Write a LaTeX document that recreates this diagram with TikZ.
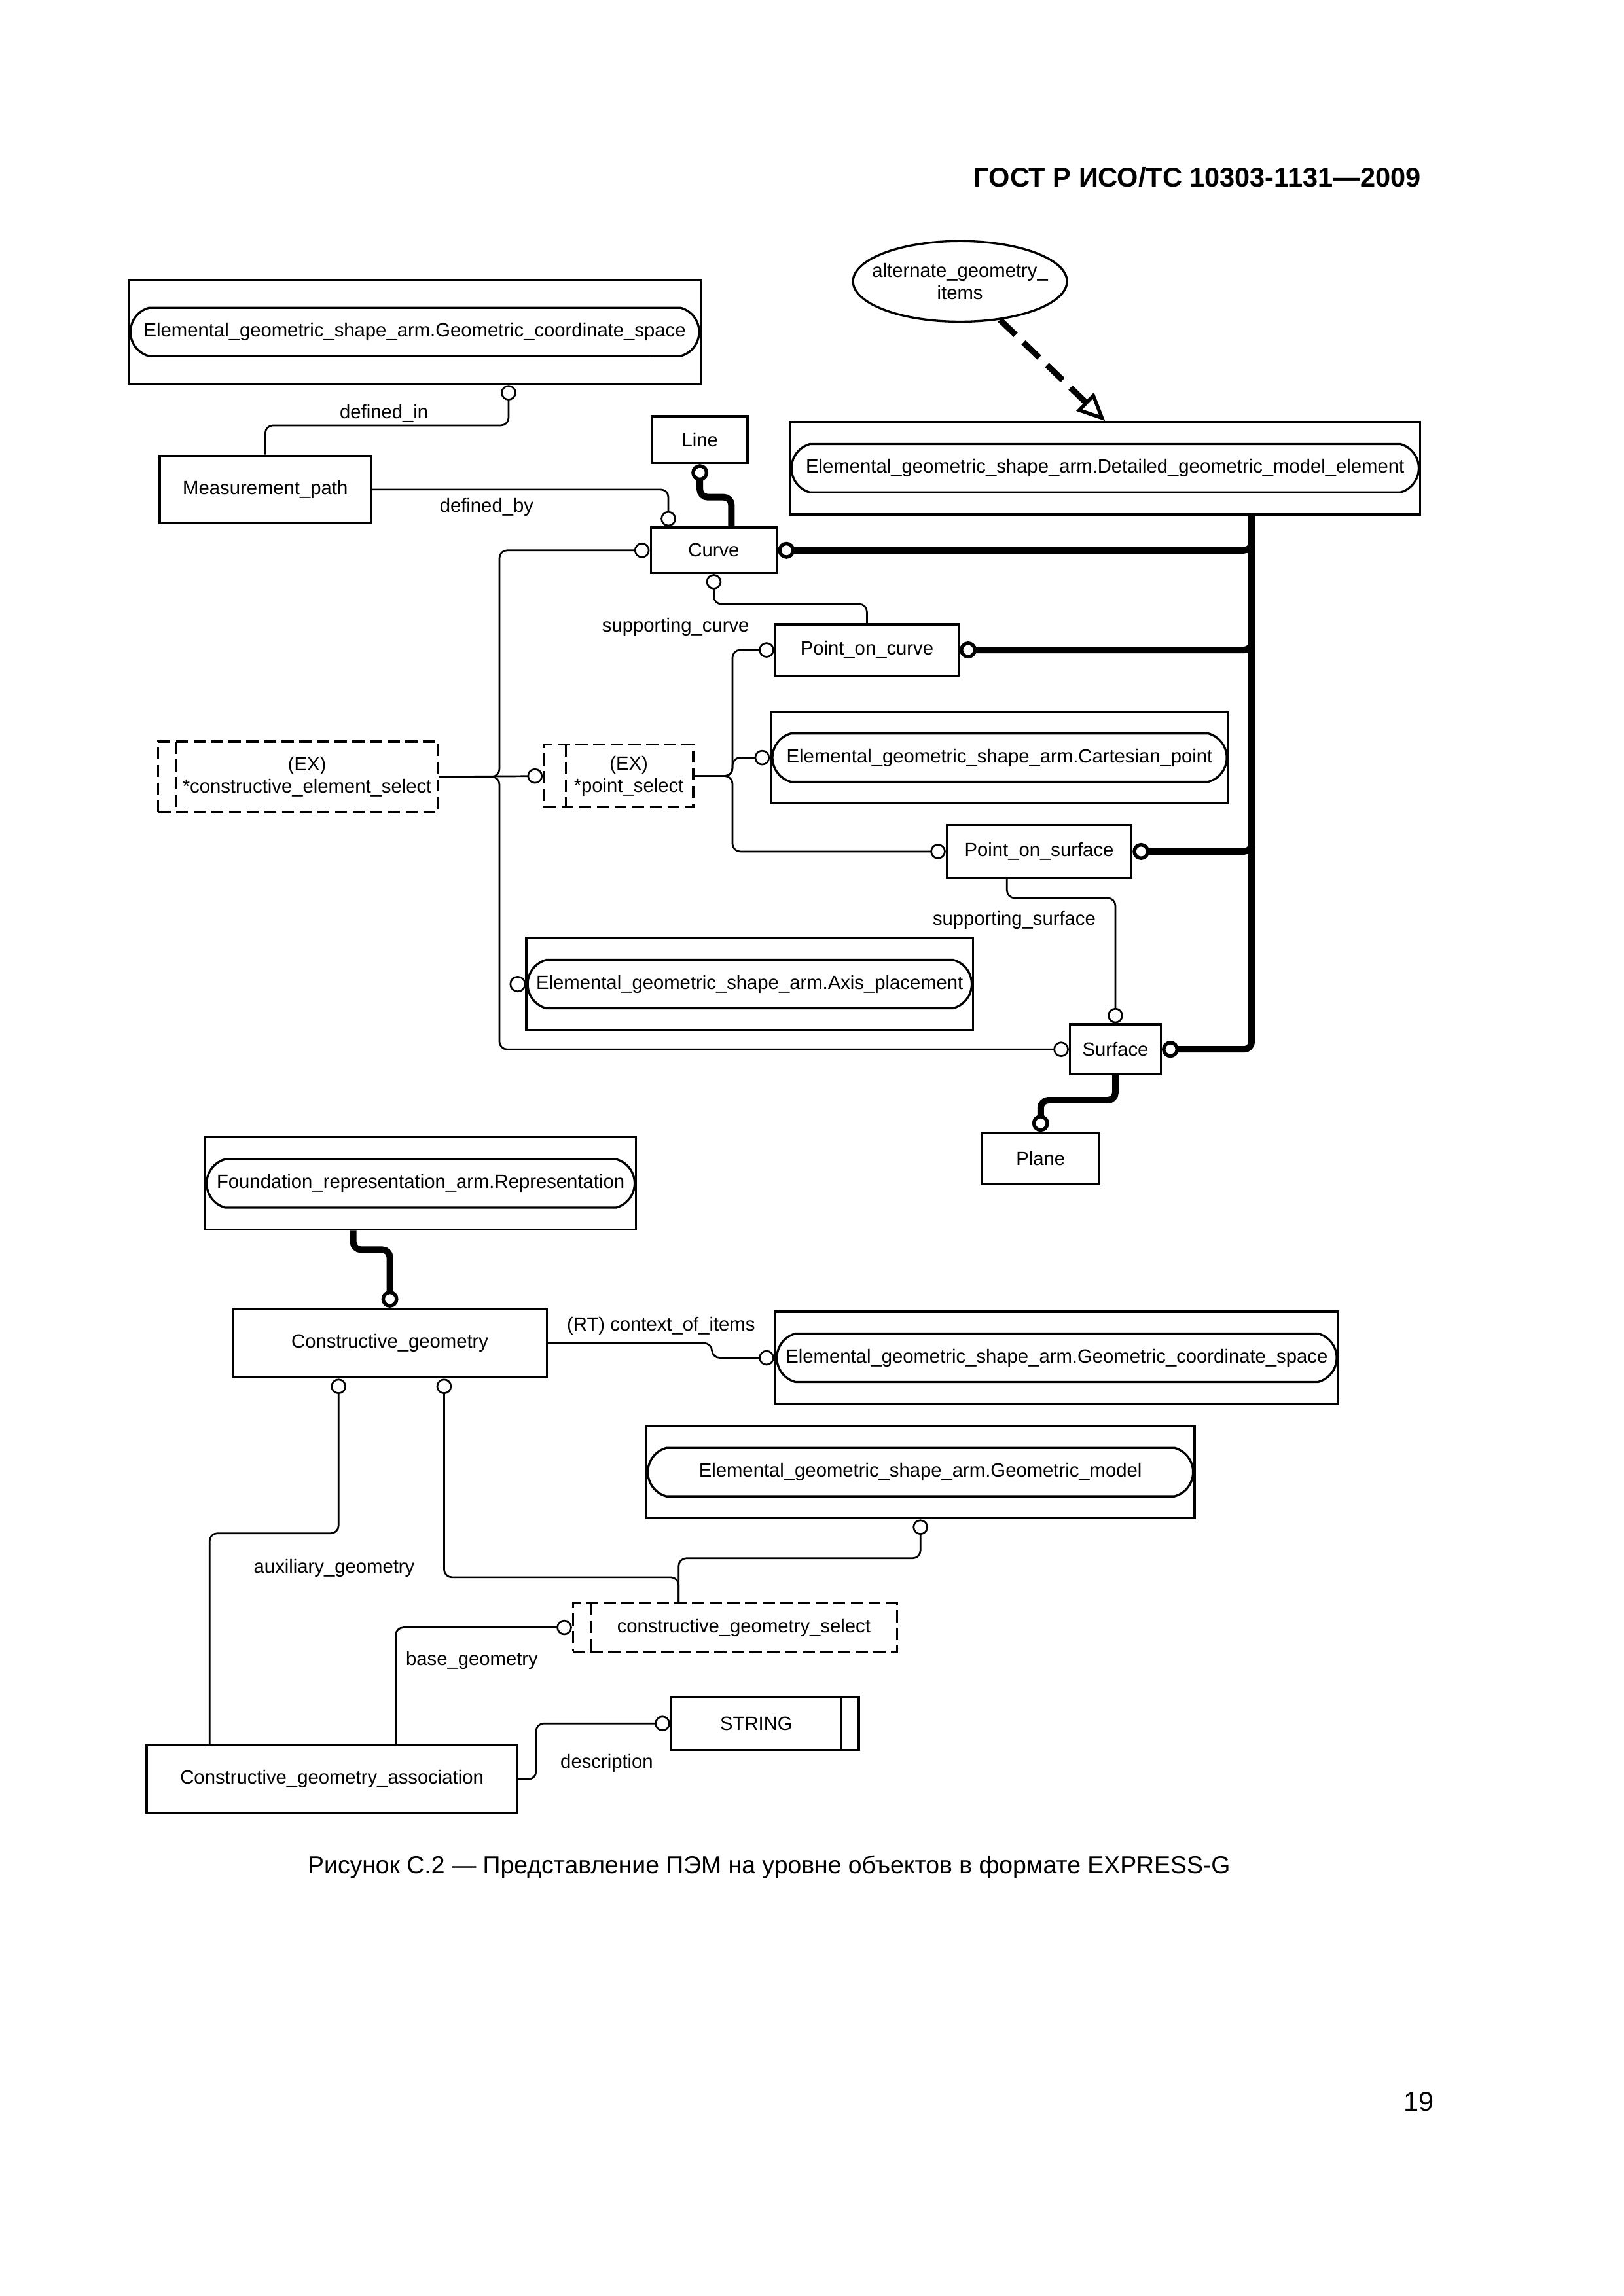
\documentclass[tikz,border=0pt]{standalone}
\usepackage{fontspec}
\setmainfont{Liberation Sans}
\usetikzlibrary{arrows.meta,calc,shapes.geometric,shapes.misc}
\newcommand{\px}{0.18957mm}

\tikzset{
  box/.style 2 args={draw,line width=0.8pt,inner sep=0pt,minimum width=#1*\px,minimum height=#2*\px},
  pill/.style={draw,line width=0.8pt,rounded rectangle,rounded rectangle arc length=150,inner sep=0pt,minimum width=#1*\px,minimum height=33*\px},
  selbox/.style n args={3}{draw,line width=0.8pt,dash pattern=on 4.5pt off 2pt,inner sep=0pt,
    minimum width=#1*\px,minimum height=#2*\px,
    path picture={\draw[line width=0.8pt,dash pattern=on 4.5pt off 2pt]
      ([xshift=#3*\px]path picture bounding box.north west) -- ([xshift=#3*\px]path picture bounding box.south west);}},
  strbox/.style 2 args={box={#1}{#2},
    path picture={\draw[line width=0.8pt]
      ([xshift=-12*\px]path picture bounding box.north east) -- ([xshift=-12*\px]path picture bounding box.south east);}},
  rel/.style={line width=0.65pt,rounded corners=1mm,-{Circle[open,length=2mm,width=2mm]}},
  sub/.style={line width=2.4pt,rounded corners=1mm,-{Circle[open,length=2.2mm,width=2.2mm,line width=1.3pt]}},
  lbl/.style={inner sep=0pt}
}

\begin{document}
\begin{tikzpicture}[x=\px,y=-\px,every node/.style={font=\fontsize{7.05}{8.2}\selectfont}]
\useasboundingbox (0,0) rectangle (1107.77,1566.7);

\node[anchor=east,font=\bfseries\fontsize{10}{12}\selectfont] (hdr) at (976,121) {ГОСТ Р ИСО/ТС 10303-1131—2009};

% upper schema
\node[box={390}{71}] (gcsa) at (283,226.5) {};
\node[pill=388] (gcsap) at (gcsa) {Elemental\_geometric\_shape\_arm.Geometric\_coordinate\_space};
\node[box={144}{46}] (mpath) at (181,334) {Measurement\_path};
\node[box={65}{32}] (line) at (477.5,300) {Line};
\node[draw,line width=0.8pt,ellipse,inner xsep=-5mm,inner ysep=0pt,minimum width=146*\px,minimum height=55*\px,align=center] (alt) at (655,192) {alternate\_geometry\_\\items};
\node[box={430}{63}] (dgme) at (754,319.5) {};
\node[pill=428] (dgmep) at (dgme) {Elemental\_geometric\_shape\_arm.Detailed\_geometric\_model\_element};
\node[box={86}{31}] (curve) at (487,375.5) {Curve};
\node[box={125}{35}] (poc) at (591.5,443.5) {Point\_on\_curve};
\node[box={312}{62}] (cart) at (682,517) {};
\node[pill=310] (cartp) at (cart) {Elemental\_geometric\_shape\_arm.Cartesian\_point};
\node[selbox={102}{43}{15},label={[xshift=7*\px,align=center]center:(EX)\\*point\_select}] (ps) at (422,529.5) {};
\node[selbox={191}{48}{12},label={[xshift=6*\px,align=center]center:(EX)\\*constructive\_element\_select}] (ces) at (203.5,530) {};
\node[box={126}{36}] (pos) at (709,581) {Point\_on\_surface};
\node[box={305}{63}] (axis) at (511.5,671.5) {};
\node[pill=303] (axisp) at (axis) {Elemental\_geometric\_shape\_arm.Axis\_placement};
\node[box={62}{34}] (surf) at (761,716) {Surface};
\node[box={80}{35}] (plane) at (710,790.5) {Plane};

% lower schema
\node[box={294}{63}] (frep) at (287,807.5) {};
\node[pill=292] (frepp) at (frep) {Foundation\_representation\_arm.Representation};
\node[box={214}{47}] (cg) at (266,916.5) {Constructive\_geometry};
\node[box={384}{63}] (gcsb) at (721,926.5) {};
\node[pill=382] (gcsbp) at (gcsb) {Elemental\_geometric\_shape\_arm.Geometric\_coordinate\_space};
\node[box={374}{63}] (gm) at (628,1004.5) {};
\node[pill=372] (gmp) at (gm) {Elemental\_geometric\_shape\_arm.Geometric\_model};
\node[selbox={221}{33}{12},label={[xshift=6*\px]center:constructive\_geometry\_select}] (cgs) at (501.5,1110.5) {};
\node[box={253}{46}] (cga) at (226.5,1214) {Constructive\_geometry\_association};
\node[strbox={128}{36},label={[xshift=-6*\px]center:STRING}] (str) at (522,1176) {};

% labels
\node[lbl] (l-din) at (262,282) {defined\_in};
\node[lbl] (l-dby) at (332,346) {defined\_by};
\node[lbl] (l-sc) at (461,428) {supporting\_curve};
\node[lbl] (l-ss) at (692,628) {supporting\_surface};
\node[lbl] (l-ctx) at (451,905) {(RT) context\_of\_items};
\node[lbl] (l-aux) at (228,1070) {auxiliary\_geometry};
\node[lbl] (l-base) at (322,1133) {base\_geometry};
\node[lbl] (l-desc) at (414,1203) {description};

% subtypes
\draw[line width=2.2pt,dash pattern=on 8pt off 4pt,-{Triangle[open,length=3.6mm,width=3.2mm,line width=1.3pt]}] (alt) -- (dgme.north);
\draw[sub] ($(dgme.south)+(100,0)$) |- (curve.east);
\draw[sub] ($(dgme.south)+(100,0)$) |- (poc.east);
\draw[sub] ($(dgme.south)+(100,0)$) |- (pos.east);
\draw[sub] ($(dgme.south)+(100,0)$) |- (surf.east);
\draw[sub] ($(curve.north)+(12,0)$) -- ++(0,-20) -| (line.south);
\draw[sub] (surf.south) -- ++(0,17) -| (plane.north);
\draw[sub] ($(frep.south)+(-46,0)$) -- ++(0,13) -| (cg.north);

% attributes and select branches
\draw[rel] (mpath.north) -- ++(0,-20) -| ($(gcsa.south)+(64,0)$);
\draw[rel] (mpath.east) -| ($(curve.north)+(-31,0)$);
\draw[rel] (poc.north) -- ++(0,-13) -| (curve.south);
\draw[rel] ($(pos.south)+(-22,0)$) -- ++(0,13) -| (surf.north);
\draw[rel] (ces.east) -- ++(41,0) |- (curve.west);
\draw[rel] (ces.east) -- ++(41,0) |- (surf.west);
\draw[rel] (ces.east) -- (ps.west);
\draw[rel] (ps.east) -- ++(26,0) |- (poc.west);
\draw[rel] (ps.east) -- ++(26,0) |- (cart.west);
\draw[rel] (ps.east) -- ++(26,0) |- (pos.west);
\draw[line width=0.65pt] ($(axis.west)+(-5,0)$) circle[radius=0.95mm];

\draw[rel] (cg.east) -- ++(112,0) |- (gcsb.west);
\draw[rel] ($(cgs.north)+(-38.5,0)$) -- ++(0,-30) -| (gm.south);
\draw[rel] ($(cgs.north)+(-38.5,0)$) -- ++(0,-17) -| ($(cg.south)+(37,0)$);
\draw[rel] ($(cga.north)+(-83.5,0)$) -- ++(0,-144) -| ($(cg.south)+(-35,0)$);
\draw[rel] ($(cga.north)+(43.5,0)$) |- (cgs.west);
\draw[rel] (cga.east) -- ++(12,0) |- (str.west);

\node[font=\fontsize{9}{11}\selectfont] (cap) at (524.7,1274) {Рисунок С.2 — Представление ПЭМ на уровне объектов в формате EXPRESS-G};
\node[font=\fontsize{10}{12}\selectfont] (pgno) at (968,1434) {19};
\end{tikzpicture}
\end{document}
